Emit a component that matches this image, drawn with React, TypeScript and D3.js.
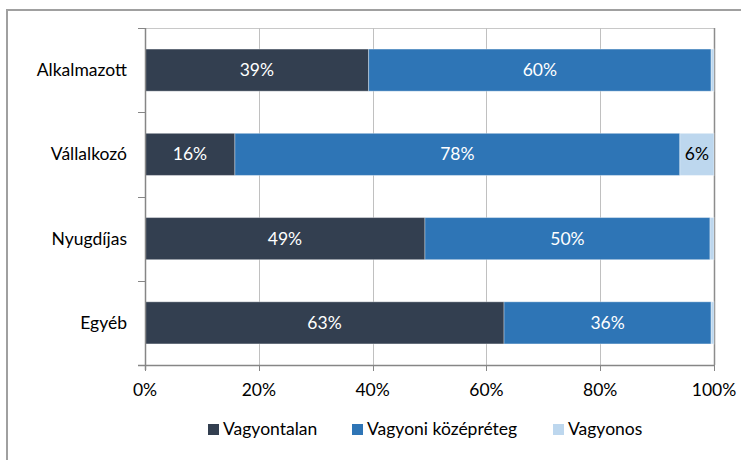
import { useEffect, useRef } from "react";
import * as d3 from "d3";

const CATEGORIES = ["Alkalmazott", "Vállalkozó", "Nyugdíjas", "Egyéb"];
const SERIES = ["Vagyontalan", "Vagyoni középréteg", "Vagyonos"];
const VAGYONTALAN = [39.3, 15.8, 49.2, 63.1];
const KOZEPRETEG = [60.2, 78.2, 50.1, 36.4];
const VAGYONOS = [0.5, 6.0, 0.7, 0.5];
const X_TICKS = [0, 20, 40, 60, 80, 100];

const COLORS = ["#333f50", "#2e75b6", "#bdd7ee"];
const LABEL_COLORS = ["#ffffff", "#ffffff", "#000000"];
const FONT = "Lato, 'Open Sans', sans-serif";
const FONT_SIZE = "17.5px";

export default function App() {
  const svgRef = useRef<SVGSVGElement>(null);
  const width = 741;
  const height = 460;

  useEffect(() => {
    if (!svgRef.current) return;
    const svg = d3.select(svgRef.current);
    svg.selectAll("*").remove();

    const left = 145;
    const right = 714;
    const top = 28;
    const bottom = 365;

    // outer frame (runs off the right/bottom edge like the original)
    svg
      .append("rect")
      .attr("x", 7)
      .attr("y", 10)
      .attr("width", 800)
      .attr("height", 500)
      .attr("fill", "none")
      .attr("stroke", "#a0a0a0")
      .attr("stroke-width", 2);

    const x = d3.scaleLinear().domain([0, 100]).range([left, right]);
    const y = d3
      .scaleBand()
      .domain(CATEGORIES)
      .range([top, bottom])
      .paddingInner(0.5)
      .paddingOuter(0.25);

    // top border of plot
    svg
      .append("line")
      .attr("x1", left)
      .attr("x2", right)
      .attr("y1", top + 0.5)
      .attr("y2", top + 0.5)
      .attr("stroke", "#c8c8c8");

    // vertical gridlines
    svg
      .append("g")
      .selectAll("line")
      .data(X_TICKS.slice(1))
      .join("line")
      .attr("x1", (d) => Math.round(x(d)) + 0.5)
      .attr("x2", (d) => Math.round(x(d)) + 0.5)
      .attr("y1", top)
      .attr("y2", bottom)
      .attr("stroke", (d) => (d === 100 ? "#8c8c8c" : "#c0c0c0"))
      .attr("stroke-width", (d) => (d === 100 ? 1.5 : 1));

    const values = [VAGYONTALAN, KOZEPRETEG, VAGYONOS];
    const rows = CATEGORIES.map((c, i) => {
      let acc = 0;
      return values.map((v, s) => {
        const seg = { cat: c, s, x0: acc, x1: acc + v[i], v: v[i] };
        acc += v[i];
        return seg;
      });
    }).flat();

    // bars
    svg
      .append("g")
      .selectAll("rect")
      .data(rows)
      .join("rect")
      .attr("x", (d) => x(d.x0))
      .attr("y", (d) => y(d.cat)!)
      .attr("width", (d) => x(d.x1) - x(d.x0))
      .attr("height", y.bandwidth())
      .attr("fill", (d) => COLORS[d.s])
      .attr("stroke", "#ffffff")
      .attr("stroke-opacity", 0.35)
      .attr("stroke-width", 1);

    // data labels
    svg
      .append("g")
      .selectAll("text")
      .data(rows.filter((d) => d.v >= 3))
      .join("text")
      .attr("x", (d) => x((d.x0 + d.x1) / 2))
      .attr("y", (d) => y(d.cat)! + y.bandwidth() / 2 + 6)
      .attr("text-anchor", "middle")
      .attr("fill", (d) => LABEL_COLORS[d.s])
      .attr("font-size", FONT_SIZE)
      .attr("font-family", FONT)
      .text((d) => `${Math.round(d.v)}%`);

    // y axis
    const yAxis = svg.append("g").attr("stroke", "#868686");
    yAxis
      .append("line")
      .attr("x1", left + 0.5)
      .attr("x2", left + 0.5)
      .attr("y1", top)
      .attr("y2", bottom + 5)
      .attr("stroke-width", 1.5);
    const bounds = CATEGORIES.map((c) => y(c)! - (y.step() * 0.5) / 2).concat(bottom);
    yAxis
      .selectAll("line.tick")
      .data(bounds)
      .join("line")
      .attr("class", "tick")
      .attr("x1", left - 7)
      .attr("x2", left)
      .attr("y1", (d) => Math.round(d) + 0.5)
      .attr("y2", (d) => Math.round(d) + 0.5);

    // x axis
    const xAxis = svg.append("g").attr("stroke", "#868686");
    xAxis
      .append("line")
      .attr("x1", left - 7)
      .attr("x2", right)
      .attr("y1", bottom + 0.5)
      .attr("y2", bottom + 0.5)
      .attr("stroke-width", 1.5);
    xAxis
      .selectAll("line.tick")
      .data(X_TICKS)
      .join("line")
      .attr("class", "tick")
      .attr("x1", (d) => Math.round(x(d)) + 0.5)
      .attr("x2", (d) => Math.round(x(d)) + 0.5)
      .attr("y1", bottom)
      .attr("y2", bottom + 6);

    svg
      .append("g")
      .selectAll("text")
      .data(X_TICKS)
      .join("text")
      .attr("x", (d) => x(d))
      .attr("y", 396)
      .attr("text-anchor", "middle")
      .attr("fill", "#000")
      .attr("font-size", FONT_SIZE)
      .attr("font-family", FONT)
      .text((d) => `${d}%`);

    // category labels
    svg
      .append("g")
      .selectAll("text")
      .data(CATEGORIES)
      .join("text")
      .attr("x", 127)
      .attr("y", (d) => y(d)! + y.bandwidth() / 2 + 6)
      .attr("text-anchor", "end")
      .attr("fill", "#000")
      .attr("font-size", FONT_SIZE)
      .attr("font-family", FONT)
      .text((d) => d);

    // legend
    const legendX = [208, 352, 553];
    const legend = svg
      .append("g")
      .selectAll("g")
      .data(SERIES)
      .join("g")
      .attr("transform", (_, i) => `translate(${legendX[i]},424)`);
    legend
      .append("rect")
      .attr("width", 11)
      .attr("height", 11)
      .attr("fill", (_, i) => COLORS[i]);
    legend
      .append("text")
      .attr("x", 15)
      .attr("y", 10.5)
      .attr("fill", "#000")
      .attr("font-size", FONT_SIZE)
      .attr("font-family", FONT)
      .text((d) => d);
  }, []);

  return (
    <svg
      ref={svgRef}
      width={width}
      height={height}
      style={{ position: "absolute", left: 0, top: 0, background: "#fff" }}
    />
  );
}
